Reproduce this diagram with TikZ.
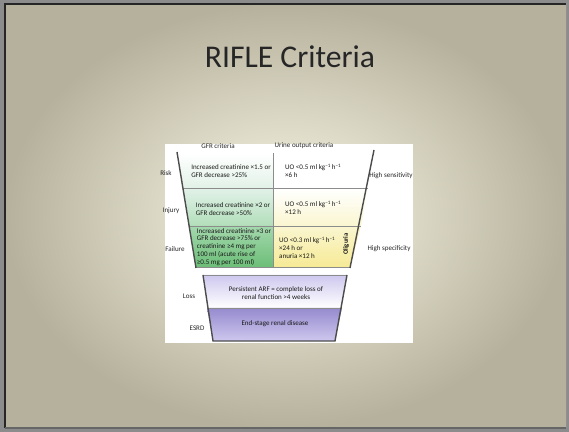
\documentclass[tikz,border=0pt]{standalone}
\usepackage{fontspec}
\setmainfont{Carlito}
\usetikzlibrary{positioning}
\definecolor{slideedge}{RGB}{182,177,156}
\definecolor{slidemid}{RGB}{250,249,232}
\definecolor{mintA}{RGB}{226,242,232}
\definecolor{mintB}{RGB}{178,222,186}
\definecolor{mintC}{RGB}{108,190,120}
\definecolor{yelB}{RGB}{250,246,208}
\definecolor{yelC}{RGB}{246,234,150}
\definecolor{lavA}{RGB}{206,200,238}
\definecolor{lavB}{RGB}{150,138,206}
\newcommand{\perunit}[1]{\raisebox{0.55ex}{\fontsize{2.9}{3}\selectfont #1}}
\tikzset{
	cell/.style={font=\fontsize{4}{4.5}\selectfont, align=left, text=black!90, inner sep=0pt},
	sidelabel/.style={font=\fontsize{4}{4.5}\selectfont, text=black!85, inner sep=0pt},
	funnel/.style={line width=0.8pt, black!70},
	divider/.style={line width=0.3pt, black!45},
}
\begin{document}
\begin{tikzpicture}[x=0.02cm,y=-0.02cm]
	\useasboundingbox (0,0) rectangle (569,432);
	%slide
	\fill[black!45] (0,0) rectangle (569,432);
	\shade[inner color=slidemid, outer color=slideedge] (5,4) rectangle (566,428);
	\draw[black!85, line width=1pt] (5,428)--(5,4)--(566,4);
	\draw[black!60, line width=0.8pt] (5,428)--(566,428);
	\node[font=\fontsize{18}{20}\selectfont, text=black!85] (title) at (290,57) {RIFLE Criteria};
	
	%picture
	\fill[white] (165,144) rectangle (413,343);
	
	%upper funnel cells
	\shade[top color=white, bottom color=mintA] (177,153)--(273,153)--(273,188)--(183,188)--cycle;	%R gfr
	\shade[top color=mintA, bottom color=mintB] (183,188)--(273,188)--(273,226)--(189,226)--cycle;	%I gfr
	\shade[top color=mintB!80!mintC, bottom color=mintC] (189,226)--(273,226)--(273,267)--(196,267)--cycle;	%F gfr
	\fill[white] (273,153)--(373,153)--(368,188)--(273,188)--cycle;	%R uo
	\shade[top color=white, bottom color=yelB] (273,188)--(368,188)--(361,226)--(273,226)--cycle;	%I uo
	\shade[top color=yelB, bottom color=yelC] (273,226)--(361,226)--(350,267)--(273,267)--cycle;	%F uo
		\draw[divider] (183,188)--(368,188);
		\draw[divider] (189,226)--(361,226);
		\draw[divider] (273,153)--(273,267);
		\draw[divider] (196,267)--(350,267);
	
	%lower funnel cells
	\shade[top color=lavA, bottom color=white] (203,275)--(347,275)--(342,308)--(207,308)--cycle;	%L
	\shade[top color=lavB, bottom color=lavA] (207,308)--(342,308)--(335,341)--(213,341)--cycle;	%E
		\draw[divider] (203,275)--(347,275);
		\draw[divider] (207,308)--(342,308);
		\draw[funnel] (203,275)--(213,341)--(335,341)--(347,275);
	
	%funnel sides
	\draw[funnel] (177,152)--(196,268);	%left
	\draw[funnel] (374,150)--(350,268);	%right
	
	%column headers
	\node[sidelabel] (gfrhead) at (218,146) {GFR criteria};
	\node[sidelabel] (uohead) at (304,146) {Urine output criteria};
	
	%cell texts
	\node[cell] (rgfr) at (231,171) {Increased creatinine ×1.5 or\\GFR decrease >25\%};
	\node[cell] (igfr) at (233,209) {Increased creatinine ×2 or\\GFR decrease >50\%};
	\node[cell] (fgfr) at (234,247) {Increased creatinine ×3 or\\GFR decrease >75\% or\\creatinine ≥4 mg per\\100 ml (acute rise of\\≥0.5 mg per 100 ml)};
	\node[cell] (ruo) at (313,171) {UO <0.5 ml kg\perunit{−1} h\perunit{−1}\\×6 h};
	\node[cell] (iuo) at (313,208) {UO <0.5 ml kg\perunit{−1} h\perunit{−1}\\×12 h};
	\node[cell] (fuo) at (307,248) {UO <0.3 ml kg\perunit{−1} h\perunit{−1}\\×24 h or\\anuria ×12 h};
	\node[cell, rotate=90, font=\fontsize{3.8}{4.3}\selectfont\bfseries] (olig) at (346,244) {Oliguria};
	\node[cell, align=center] (loss) at (276,293) {Persistent ARF = complete loss of\\renal function >4 weeks};
	\node[cell] (esrd) at (275,324) {End-stage renal disease};
	
	%row labels
	\node[sidelabel] (risk) at (166,173) {Risk};
	\node[sidelabel] (injury) at (171,211) {Injury};
	\node[sidelabel] (failure) at (175,249) {Failure};
	\node[sidelabel] (losslab) at (189,296) {Loss};
	\node[sidelabel] (esrdlab) at (197,328) {ESRD};
	\node[sidelabel] (sens) at (391,176) {High sensitivity};
	\node[sidelabel] (spec) at (389,249) {High specificity};
\end{tikzpicture}
\end{document}
